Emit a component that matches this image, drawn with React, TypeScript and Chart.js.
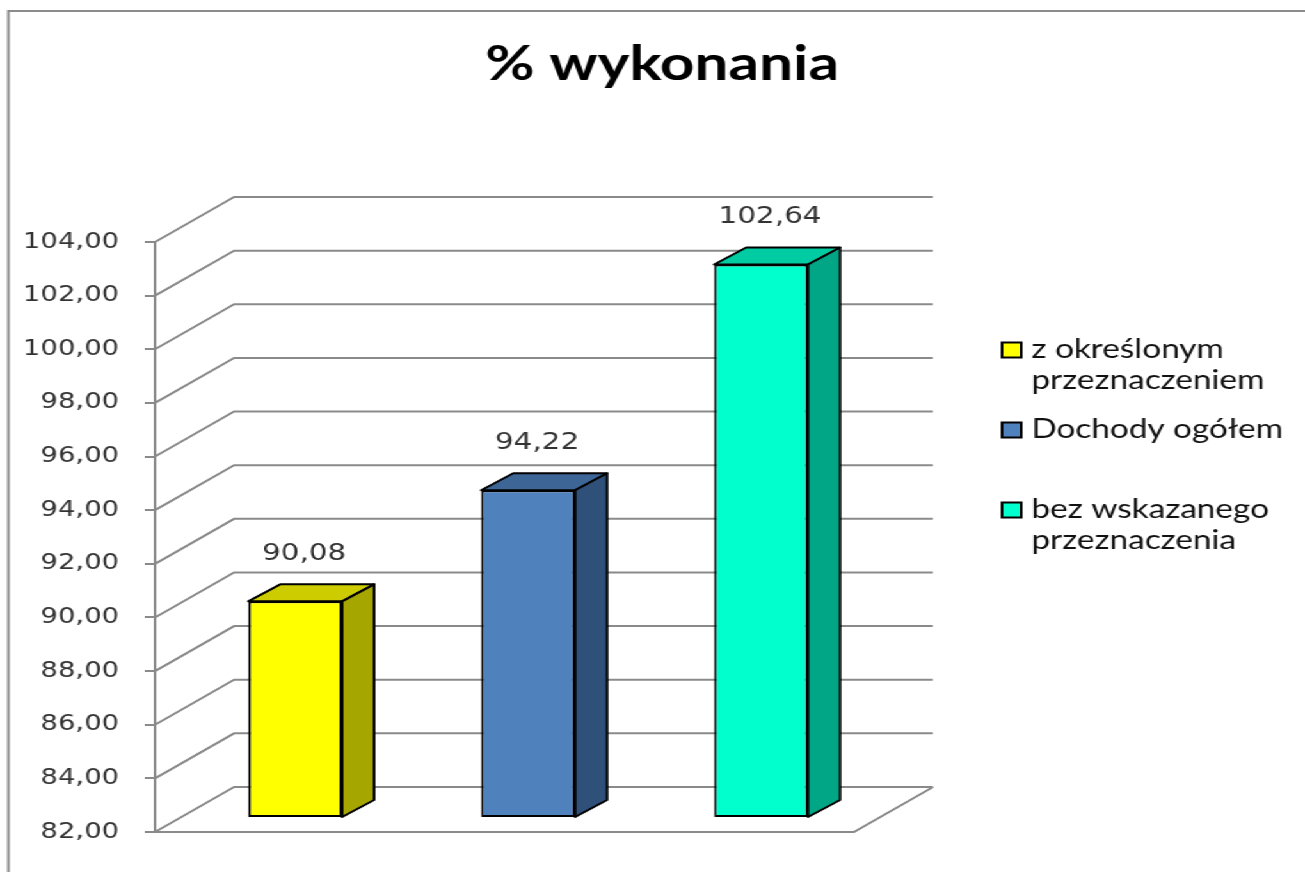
import React, { useEffect, useRef } from 'react';
import { Chart, registerables } from 'chart.js';

Chart.register(...registerables);

// ---- data ----
const categories = ['% wykonania'];
const seriesLabels: string[][] = [
  ['z określonym', 'przeznaczeniem'],
  ['Dochody ogółem'],
  ['bez wskazanego', 'przeznaczenia'],
];
const seriesValues = [90.08, 94.22, 102.64];
const frontColors = ['#FFFF00', '#4F81BD', '#00FFCC'];
const topColors = ['#CCCC00', '#3D6596', '#00CCA3'];
const sideColors = ['#A6A600', '#2F5079', '#00A685'];
const yMin = 82;
const yMax = 104;
const yStep = 2;
const titleText = '% wykonania';

// ---- style constants ----
const STRETCH = 1.28;
const W = 1305 / STRETCH;
const H = 872;
const DX = 61.7; // back wall depth offset
const DY = -45;
const BX = 18.4; // bar front plane offset
const BY = -14;
const SX = 25; // bar depth
const SY = -17;
const GRID = '#8a8a8a';

const fmt = (v: number) => v.toFixed(2).replace('.', ',');

const threeD = {
  id: 'threeD',
  beforeDatasetsDraw(chart: any) {
    const { ctx, chartArea: a } = chart;
    const y = chart.scales.y;
    ctx.save();
    ctx.strokeStyle = GRID;
    ctx.lineWidth = 2;
    y.ticks.forEach((t: any) => {
      const py = y.getPixelForValue(t.value);
      ctx.beginPath();
      ctx.moveTo(a.left, py);
      ctx.lineTo(a.left + DX, py + DY);
      ctx.lineTo(a.right + DX, py + DY);
      ctx.stroke();
    });
    ctx.beginPath();
    ctx.moveTo(a.left, a.bottom);
    ctx.lineTo(a.right, a.bottom);
    ctx.lineTo(a.right + DX, a.bottom + DY);
    ctx.stroke();
    ctx.restore();
    ctx.save();
    ctx.translate(BX, BY);
  },
  afterDatasetsDraw(chart: any) {
    const { ctx } = chart;
    ctx.lineWidth = 2;
    ctx.lineJoin = 'round';
    ctx.strokeStyle = '#000';
    chart.data.datasets.forEach((ds: any, i: number) => {
      const meta = chart.getDatasetMeta(i);
      meta.data.forEach((bar: any) => {
        const { x, y, base, width } = bar.getProps(['x', 'y', 'base', 'width'], true);
        const l = x - width / 2;
        const r = x + width / 2;
        ctx.fillStyle = topColors[i];
        ctx.beginPath();
        ctx.moveTo(l, y);
        ctx.lineTo(l + SX, y + SY);
        ctx.lineTo(r + SX, y + SY);
        ctx.lineTo(r, y);
        ctx.closePath();
        ctx.fill();
        ctx.stroke();
        ctx.fillStyle = sideColors[i];
        ctx.beginPath();
        ctx.moveTo(r, y);
        ctx.lineTo(r + SX, y + SY);
        ctx.lineTo(r + SX, base + SY);
        ctx.lineTo(r, base);
        ctx.closePath();
        ctx.fill();
        ctx.stroke();
      });
    });
    ctx.restore();
    // data labels
    ctx.save();
    ctx.font = '23px "DejaVu Sans"';
    ctx.fillStyle = '#333';
    ctx.textAlign = 'center';
    ctx.textBaseline = 'middle';
    chart.data.datasets.forEach((ds: any, i: number) => {
      const meta = chart.getDatasetMeta(i);
      meta.data.forEach((bar: any, j: number) => {
        const { x, y } = bar.getProps(['x', 'y'], true);
        ctx.fillText(fmt(ds.data[j]), x + BX + 7, y + BY - 47);
      });
    });
    ctx.restore();
  },
  afterDraw(chart: any) {
    const { ctx } = chart;
    ctx.save();
    // frame
    ctx.strokeStyle = '#8c8c8c';
    ctx.lineWidth = 2;
    ctx.beginPath();
    ctx.moveTo(6.5, H);
    ctx.lineTo(6.5, 11);
    ctx.lineTo(W + 5, 11);
    ctx.stroke();
    // legend
    const sqX = 782;
    const txtX = 805;
    const rows = [
      [350, 381],
      [430],
      [510, 541],
    ];
    ctx.font = '26px Lato';
    ctx.textBaseline = 'middle';
    ctx.textAlign = 'left';
    seriesLabels.forEach((lines, i) => {
      const yy = rows[i];
      ctx.fillStyle = frontColors[i];
      ctx.fillRect(sqX, yy[0] - 7.5, 15, 15);
      ctx.strokeStyle = '#000';
      ctx.lineWidth = 2;
      ctx.strokeRect(sqX, yy[0] - 7.5, 15, 15);
      ctx.fillStyle = '#111';
      lines.forEach((ln, k) => ctx.fillText(ln, txtX, yy[k]));
    });
    ctx.restore();
  },
};

export default function App() {
  const ref = useRef<HTMLCanvasElement>(null);
  useEffect(() => {
    if (!ref.current) return;
    const chart = new Chart(ref.current, {
      type: 'bar',
      data: {
        labels: categories,
        datasets: seriesLabels.map((lab, i) => ({
          label: lab.join(' '),
          data: [seriesValues[i]],
          base: yMin,
          backgroundColor: frontColors[i],
          borderColor: '#000',
          borderWidth: 2,
          borderSkipped: false,
          categoryPercentage: 1.0,
          barPercentage: 0.403,
          yAxisID: 'y',
        })),
      },
      options: {
        responsive: true,
        maintainAspectRatio: false,
        animation: false,
        layout: { padding: { left: 14, right: 0, top: 0, bottom: 40 } },
        plugins: {
          legend: { display: false },
          tooltip: { enabled: false },
          title: {
            display: true,
            text: titleText,
            color: '#000',
            font: { family: 'Lato', weight: 'bold', size: 47, lineHeight: 1.2 },
            padding: { top: 37, bottom: 148.6 },
          },
        },
        scales: {
          x: { display: false },
          y: {
            position: 'left',
            min: yMin,
            max: yMax,
            ticks: {
              stepSize: yStep,
              callback: (v: any) => fmt(Number(v)),
              font: { family: 'DejaVu Sans', size: 21.5 },
              color: '#333',
              padding: 20,
            },
            grid: { drawOnChartArea: false, drawTicks: true, tickLength: 8, color: GRID, lineWidth: 2 },
            border: { display: true, color: GRID, width: 2 },
            afterFit: (s: any) => { s.width = 107; },
          },
          yR: {
            position: 'right',
            display: true,
            ticks: { display: false },
            grid: { display: false },
            border: { display: false },
            afterFit: (s: any) => { s.width = 353; },
          },
        },
      },
      plugins: [threeD],
    } as any);
    return () => chart.destroy();
  }, []);
  return (
    <div
      style={{
        position: 'fixed',
        left: 0,
        top: 0,
        width: W + 'px',
        height: H + 'px',
        transform: `scaleX(${STRETCH})`,
        transformOrigin: '0 0',
        background: '#fff',
      }}
    >
      <canvas ref={ref} />
    </div>
  );
}
